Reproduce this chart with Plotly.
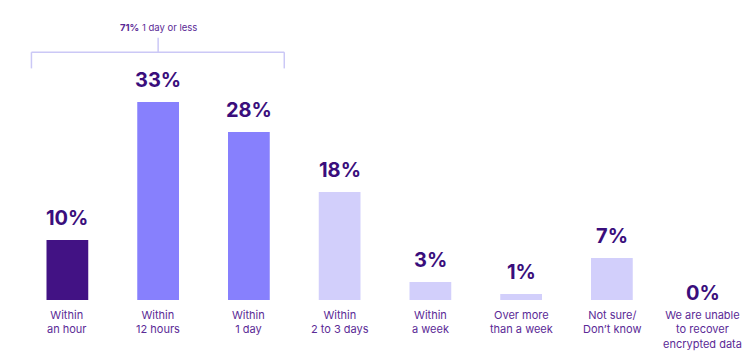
import plotly.graph_objects as go

categories = ["Within<br>an hour", "Within<br>12 hours", "Within<br>1 day", "Within<br>2 to 3 days",
              "Within<br>a week", "Over more<br>than a week", "Not sure/<br>Don’t know",
              "We are unable<br>to recover<br>encrypted data"]
values = [10, 33, 28, 18, 3, 1, 7, 0]
value_labels = ["10%", "33%", "28%", "18%", "3%", "1%", "7%", "0%"]
bar_colors = ["#421284", "#8780fd", "#8780fd", "#d2cffb", "#d2cffb", "#d2cffb", "#d2cffb", "#d2cffb"]
bracket_label = "<b>71%</b> 1 day or less"

xs = list(range(len(categories)))

fig = go.Figure()
fig.add_trace(go.Bar(x=xs, y=values, marker=dict(color=bar_colors, line=dict(width=0)),
                     width=0.46, hoverinfo="skip"))

for x, v, t in zip(xs, values, value_labels):
    fig.add_annotation(x=x, y=v, text=f"<b>{t}</b>", showarrow=False, yanchor="bottom",
                       yshift=8 if v > 0 else -7,
                       font=dict(family="Inter", size=20, color="#3a0e7c"))
    fig.add_annotation(x=x, y=0, text=categories[x], showarrow=False, yanchor="top",
                       yshift=-6, font=dict(family="Inter", size=11, color="#5b2a96"))

bc = "#cbc8f6"
x0, x1, xm = -0.396, 2.39, 1.0
fig.add_shape(type="line", x0=x0, x1=x1, y0=41.3, y1=41.3, line=dict(color=bc, width=1.5))
fig.add_shape(type="line", x0=x0, x1=x0, y0=41.3, y1=38.6, line=dict(color=bc, width=1.5))
fig.add_shape(type="line", x0=x1, x1=x1, y0=41.3, y1=38.6, line=dict(color=bc, width=1.5))
fig.add_shape(type="line", x0=xm, x1=xm, y0=41.3, y1=43.7, line=dict(color=bc, width=1.5))
fig.add_annotation(x=xm, y=45.5, text=bracket_label, showarrow=False, yanchor="middle",
                   font=dict(family="Inter", size=9.5, color="#5b2a96"))

fig.update_layout(
    width=747, height=349, margin=dict(l=14, r=7, t=0, b=57),
    paper_bgcolor="white", plot_bgcolor="white", showlegend=False,
    xaxis=dict(range=[-0.5, 7.5], visible=False),
    yaxis=dict(range=[0, 292 / 6], visible=False),
)
fig.write_html("out.html")
